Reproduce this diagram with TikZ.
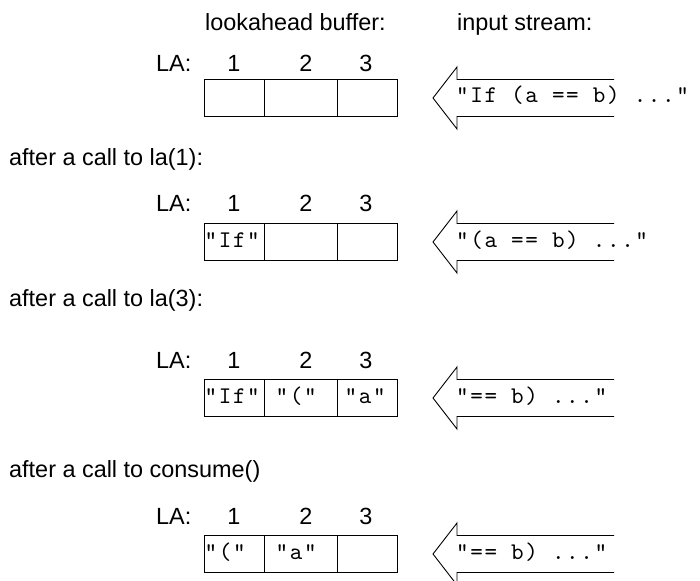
\documentclass[tikz,border=0pt]{standalone}
\usepackage{fontspec}
\setmainfont{Liberation Sans}
\setmonofont[LetterSpace=6.7]{lmmono10-regular.otf}
\begin{document}
\begin{tikzpicture}[x=1bp,y=-1bp,
		txt/.style={font=\fontsize{23.5}{28}\selectfont, inner sep=0pt, anchor=base west},
		num/.style={font=\fontsize{23.5}{28}\selectfont, inner sep=0pt, anchor=base},
		tok/.style={font=\ttfamily\fontsize{24}{28}\selectfont, inner sep=0pt, anchor=base west},
		cell/.style={draw, line width=1bp, minimum height=37bp, inner sep=0pt},
		instream/.style={line width=0.9bp, line join=miter}]
		\useasboundingbox (0,0) rectangle (700,581);
		
		\node[txt] (lbuf) at (205,31) {lookahead buffer:};
		\node[txt] (istr) at (457,31) {input stream:};
		
		\node[txt] (afterB) at (9,166) {after a call to la(1):};
		\node[txt] (afterC) at (9,306) {after a call to la(3):};
		\node[txt] (afterD) at (9,477) {after a call to consume()};
		
		% LA: 1 2 3 above each buffer
		\foreach \r/\y in {A/72, B/211, C/368, D/524} {
			\node[txt] (la\r) at (156,\y) {LA:};
			\node[num] (n1\r) at (234,\y) {1};
			\node[num] (n2\r) at (306,\y) {2};
			\node[num] (n3\r) at (366,\y) {3};
		}
		
		% the three cells of the buffer
		\foreach \r/\y in {A/98, B/242, C/398, D/554} {
			\node[cell, minimum width=60bp] (c1\r) at (234,\y) {};
			\node[cell, minimum width=73bp] (c2\r) at (300.5,\y) {};
			\node[cell, minimum width=60bp] (c3\r) at (367,\y) {};
		}
		
		\node[tok] (t1B) at ([xshift=1bp,yshift=-5bp]c1B.west) {"If"};
		\node[tok] (t1C) at ([xshift=1bp,yshift=-5bp]c1C.west) {"If"};
		\node[tok] (t2C) at ([xshift=12bp,yshift=-5bp]c2C.west) {"("};
		\node[tok] (t3C) at ([xshift=8bp,yshift=-5bp]c3C.west) {"a"};
		\node[tok] (t1D) at ([xshift=1bp,yshift=-5bp]c1D.west) {"("};
		\node[tok] (t2D) at ([xshift=12bp,yshift=-5bp]c2D.west) {"a"};
		
		% input stream arrows
		\foreach \y in {98, 242, 398, 554}
			\draw[instream] (614,\y-18.5) -- (457,\y-18.5) -- (457,\y-31) -- (433,\y)
				-- (457,\y+31) -- (457,\y+18.5) -- (614,\y+18.5);
		
		\node[tok] (sA) at (456,103) {"If (a == b) ..."};
		\node[tok] (sB) at (456,247) {"(a == b) ..."};
		\node[tok] (sC) at (456,403) {"== b) ..."};
		\node[tok] (sD) at (456,559) {"== b) ..."};
\end{tikzpicture}
\end{document}
